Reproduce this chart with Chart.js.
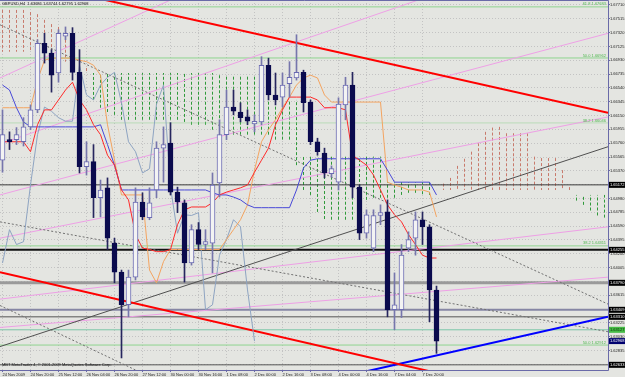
<!DOCTYPE html>
<html>
<head>
<meta charset="utf-8">
<title>GBPUSD,H4</title>
<script src="https://cdn.jsdelivr.net/npm/chart.js@4.4.1/dist/chart.umd.min.js"></script>
<style>
  html, body { margin: 0; padding: 0; background: #e4e5e1; }
  canvas { display: block; }
</style>
</head>
<body>
<canvas id="grafico" width="625" height="377"></canvas>
<script>
// GBPUSD H4 - velas, ichimoku, linhas de tendencia (estilo MT4)

const tituloSimbolo = 'GBPUSD,H4  1.63686 1.63744 1.62795 1.62968';
const rodape = 'MBT MetaTrader 4, \u00a9 2001-2009 MetaQuotes Software Corp.';

const rotulosTempo = ['24 Nov 2009', '24 Nov 20:00', '25 Nov 12:00', '26 Nov 04:00', '26 Nov 20:00',
  '27 Nov 12:00', '30 Nov 00:00', '30 Nov 16:00', '1 Dec 08:00', '2 Dec 00:00', '2 Dec 16:00',
  '3 Dec 08:00', '4 Dec 00:00', '4 Dec 16:00', '7 Dec 04:00', '7 Dec 20:00'];
const barrasRotulo = [0, 4, 8, 12, 16, 20, 24, 28, 32, 36, 40, 44, 48, 52, 56, 60];

const ticksPreco = [1.67710, 1.67515, 1.67320, 1.67125, 1.66930, 1.66735, 1.66540, 1.66345, 1.66150,
  1.65955, 1.65760, 1.65565, 1.65370, 1.65175, 1.64980, 1.64785, 1.64590, 1.64395, 1.64200,
  1.64005, 1.63810, 1.63615, 1.63420, 1.63225, 1.63030, 1.62835, 1.62640];

// velas H4
const abertura = [1.6552, 1.6581, 1.6581, 1.6578, 1.6599, 1.6623, 1.6717, 1.6703, 1.6675, 1.6727,
  1.6731, 1.6676, 1.6543, 1.6550, 1.6499, 1.6513, 1.6435, 1.6394, 1.6348, 1.6387,
  1.6493, 1.6471, 1.6510, 1.6569, 1.6576, 1.6507, 1.6492, 1.6407, 1.6454, 1.6433,
  1.6435, 1.6520, 1.6588, 1.6627, 1.6620, 1.6613, 1.6603, 1.6606, 1.6686, 1.6644,
  1.6641, 1.6660, 1.6668, 1.6676, 1.6634, 1.6578, 1.6562, 1.6533, 1.6521, 1.6630,
  1.6658, 1.6514, 1.6449, 1.6428, 1.6474, 1.6479, 1.6341, 1.6341, 1.6428, 1.6442,
  1.6468, 1.6458, 1.63686];
const maxima = [1.6623, 1.6592, 1.6598, 1.6612, 1.6630, 1.6722, 1.6731, 1.6708, 1.6736, 1.6740,
  1.6739, 1.6708, 1.6578, 1.6574, 1.6524, 1.6527, 1.6442, 1.6397, 1.6397, 1.6513,
  1.6506, 1.6513, 1.6578, 1.6599, 1.6605, 1.6514, 1.6496, 1.6461, 1.6464, 1.6454,
  1.6534, 1.6609, 1.6651, 1.6651, 1.6633, 1.6623, 1.6616, 1.6698, 1.6696, 1.6675,
  1.6675, 1.6691, 1.6729, 1.6679, 1.6637, 1.6583, 1.6569, 1.6544, 1.6640, 1.6669,
  1.6676, 1.6517, 1.6482, 1.6482, 1.6489, 1.6496, 1.6393, 1.6433, 1.6451, 1.6479,
  1.6479, 1.6461, 1.63744];
const minima = [1.6535, 1.6567, 1.6574, 1.6572, 1.6595, 1.6619, 1.6689, 1.6648, 1.6662, 1.6722,
  1.6665, 1.6534, 1.6531, 1.6471, 1.6472, 1.6426, 1.6379, 1.6273, 1.6331, 1.6383,
  1.6468, 1.6468, 1.6499, 1.6521, 1.6503, 1.6478, 1.6380, 1.6404, 1.6426, 1.6426,
  1.6393, 1.6500, 1.6581, 1.6616, 1.6606, 1.6602, 1.6592, 1.6602, 1.6637, 1.6630,
  1.6627, 1.6641, 1.6665, 1.6620, 1.6574, 1.6559, 1.6527, 1.6528, 1.6510, 1.6609,
  1.6499, 1.6440, 1.6442, 1.6423, 1.6461, 1.6331, 1.6313, 1.6330, 1.6423, 1.6418,
  1.6433, 1.6324, 1.62795];
const fechamento = [1.6588, 1.6578, 1.6588, 1.6599, 1.6623, 1.6717, 1.6703, 1.6672, 1.6731, 1.6731,
  1.6676, 1.6543, 1.6550, 1.6499, 1.6510, 1.6442, 1.6394, 1.6348, 1.6387, 1.6493,
  1.6472, 1.6492, 1.6569, 1.6574, 1.6507, 1.6493, 1.6407, 1.6454, 1.6433, 1.6437,
  1.6517, 1.6588, 1.6627, 1.6621, 1.6612, 1.6607, 1.6607, 1.6686, 1.6644, 1.6637,
  1.6658, 1.6669, 1.6676, 1.6633, 1.6578, 1.6564, 1.6534, 1.6540, 1.6631, 1.6658,
  1.6514, 1.6449, 1.6475, 1.6474, 1.6478, 1.6341, 1.6348, 1.6418, 1.6440, 1.6468,
  1.6458, 1.6369, 1.62968];

// ichimoku
const tenkan = [1.6578, 1.6578, 1.6578, 1.6578, 1.6564, 1.6602, 1.6623, 1.6623, 1.6637, 1.6651,
  1.6662, 1.6637, 1.6623, 1.6602, 1.6588, 1.6559, 1.6545, 1.6510, 1.6496, 1.6447,
  1.6428, 1.6426, 1.6423, 1.6423, 1.6426, 1.6461, 1.6482, 1.6486, 1.6486, 1.6486,
  1.6492, 1.6503, 1.6507, 1.6510, 1.6513, 1.6517, 1.6535, 1.6552, 1.6569, 1.6602,
  1.6623, 1.6641, 1.6641, 1.6641, 1.6641, 1.6637, 1.6626, 1.6626, 1.6626, 1.6623,
  1.6559, 1.6552, 1.6545, 1.6531, 1.6510, 1.6489, 1.6475, 1.6465, 1.6447, 1.6433,
  1.6418, 1.6414, 1.6414];
const kijun = [1.6658, 1.6651, 1.6626, 1.6606, 1.6599, 1.6599, 1.6599, 1.6599, 1.6599, 1.6599,
  1.6599, 1.6599, 1.6599, 1.6599, 1.6602, 1.6574, 1.6545, 1.6510, 1.6510, 1.6510,
  1.6510, 1.6510, 1.6510, 1.6510, 1.6510, 1.6510, 1.6510, 1.6510, 1.6510, 1.6510,
  1.6506, 1.6503, 1.6503, 1.6500, 1.6496, 1.6489, 1.6485, 1.6485, 1.6485, 1.6485,
  1.6485, 1.6485, 1.6510, 1.6541, 1.6552, 1.6554, 1.6554, 1.6554, 1.6554, 1.6554,
  1.6554, 1.6554, 1.6554, 1.6554, 1.6554, 1.6538, 1.6521, 1.6521, 1.6521, 1.6521,
  1.6521, 1.6521, 1.6503];
const linhaLaranja = [1.6626, 1.6626, 1.6626, 1.6626, 1.6626, 1.6665, 1.6693, 1.6696, 1.6696, 1.6696,
  1.6696, 1.6693, 1.6691, 1.6686, 1.6672, 1.6602, 1.6552, 1.6503, 1.6503, 1.6503,
  1.6503, 1.6397, 1.6379, 1.6409, 1.6426, 1.6426, 1.6426, 1.6426, 1.6426, 1.6426,
  1.6426, 1.6426, 1.6440, 1.6454, 1.6468, 1.6489, 1.6538, 1.6578, 1.6595, 1.6609,
  1.6626, 1.6641, 1.6658, 1.6668, 1.6672, 1.6668, 1.6644, 1.6634, 1.6634, 1.6634,
  1.6634, 1.6634, 1.6634, 1.6634, 1.6634, 1.6521, 1.6517, 1.6514, 1.6510, 1.6510,
  1.6510, 1.6507, 1.6472];
const chikou = [1.6407, 1.6454, 1.6433, 1.6437, 1.6517, 1.6588, 1.6627, 1.6621, 1.6612, 1.6607,
  1.6607, 1.6686, 1.6644, 1.6637, 1.6658, 1.6669, 1.6676, 1.6633, 1.6578, 1.6564,
  1.6534, 1.6540, 1.6631, 1.6658, 1.6514, 1.6449, 1.6475, 1.6474, 1.6478, 1.6341,
  1.6348, 1.6418, 1.6440, 1.6468, 1.6458, 1.6369, 1.62968];
const senkouA = [1.6764, 1.6764, 1.6764, 1.6764, 1.6761, 1.6758, 1.6750, 1.6744, 1.6740, 1.6729,
  1.6715, 1.6700, 1.6682, 1.6637, 1.6626, 1.6620, 1.6616, 1.6609, 1.6609, 1.6609,
  1.6609, 1.6609, 1.6609, 1.6609, 1.6609, 1.6609, 1.6606, 1.6602, 1.6602, 1.6602,
  1.6595, 1.6590, 1.6588, 1.6588, 1.6588, 1.6588, 1.6588, 1.6588, 1.6588, 1.6581,
  1.6581, 1.6581, 1.6545, 1.6510, 1.6503, 1.6479, 1.6469, 1.6468, 1.6468, 1.6468,
  1.6468, 1.6486, 1.6496, 1.6499, 1.6499, 1.6499, 1.6499, 1.6503, 1.6506, 1.6506,
  1.6504, 1.6503, 1.6510, 1.6519, 1.6527, 1.6544, 1.6554, 1.6564, 1.6576, 1.6592,
  1.6598, 1.6599, 1.6590, 1.6590, 1.6590, 1.6590, 1.6557, 1.6555, 1.6555, 1.6555,
  1.6538, 1.6514, 1.6495, 1.6489, 1.6481, 1.6474, 1.6471];
const senkouB = [1.6705, 1.6705, 1.6705, 1.6705, 1.6705, 1.6700, 1.6700, 1.6696, 1.6693, 1.6691,
  1.6686, 1.6682, 1.6676, 1.6675, 1.6675, 1.6675, 1.6675, 1.6675, 1.6675, 1.6675,
  1.6675, 1.6675, 1.6675, 1.6675, 1.6675, 1.6675, 1.6675, 1.6675, 1.6675, 1.6675,
  1.6675, 1.6672, 1.6672, 1.6672, 1.6672, 1.6672, 1.6672, 1.6665, 1.6651, 1.6637,
  1.6637, 1.6637, 1.6637, 1.6557, 1.6557, 1.6557, 1.6557, 1.6557, 1.6557, 1.6557,
  1.6557, 1.6557, 1.6557, 1.6557, 1.6557, 1.6521, 1.6521, 1.6521, 1.6521, 1.6521,
  1.6521, 1.6521, 1.6510, 1.6510, 1.6510, 1.6510, 1.6510, 1.6510, 1.6510, 1.6510,
  1.6510, 1.6510, 1.6510, 1.6510, 1.6510, 1.6510, 1.6510, 1.6510, 1.6510, 1.6510,
  1.6510, 1.6510, 1.6503, 1.6503, 1.6503, 1.6503, 1.6503];

// objetos desenhados: [barra, preco] de cada ponta
const tendVermelhaAlta = [[14.7, 1.6778], [86.5, 1.6619]];
const tendVermelhaBaixa = [[-0.36, 1.6394], [62, 1.6252]];
const tendAzul = [[51, 1.6252], [86.5, 1.6331]];
const tendCinza = [[-0.36, 1.6289], [86.5, 1.6571]];
const pontilhadas = [
  [[-0.36, 1.6743], [86.5, 1.6349]],
  [[-0.36, 1.6465], [86.5, 1.6310]],
  [[-0.36, 1.6347], [19.0, 1.6256]]
];
const canalRosa = [
  [[-0.36, 1.6668], [24.0, 1.6778]],
  [[-0.36, 1.6575], [59.4, 1.6778]],
  [[-0.36, 1.6503], [86.5, 1.6731]],
  [[-0.36, 1.6442], [86.5, 1.6613]],
  [[-0.36, 1.6356], [86.5, 1.6458]],
  [[-0.36, 1.6316], [86.5, 1.6387]]
];

const nivelFibo = ['61.8', '50.0', '38.2', '38.2', '50.0'];
const precoFibo = [1.67683, 1.66962, 1.66046, 1.64311, 1.62912];
const precoVerde = [1.63127];
const precoNiveis = [1.65172, 1.64255, 1.63790, 1.63409, 1.63310, 1.62633];
const precoBid = 1.62968;

const estiloNiveis = [
  { cor: '#3a3a3a', larg: 1 }, { cor: '#111111', larg: 2 }, { cor: '#9a9a9a', larg: 3 },
  { cor: '#8686a4', larg: 2 }, { cor: '#555555', larg: 1 }, { cor: '#555555', larg: 1 }
];

const FONTE = '"Liberation Sans", Arial, sans-serif';
const canvas = document.getElementById('grafico');

const pts = (arr) => arr.map((v, i) => ({ x: i, y: v }));
const seg = (par) => par.map(([b, p]) => ({ x: b, y: p }));
const horiz = (p) => [{ x: -1, y: p }, { x: 90, y: p }];
const alta = (i) => fechamento[i] >= abertura[i];

function linha(data, cor, larg, ordem, extra) {
  return Object.assign({
    type: 'line', data, borderColor: cor, borderWidth: larg, pointRadius: 0,
    tension: 0, fill: false, order: ordem
  }, extra || {});
}

const datasets = [];

// corpos e pavios
datasets.push({
  type: 'bar', order: 0, grouped: false, barThickness: 5, minBarLength: 1, borderSkipped: false,
  data: abertura.map((o, i) => ({ x: i, y: [o, fechamento[i]] })),
  backgroundColor: abertura.map((_, i) => alta(i) ? '#f3f3f3' : '#0b0b4e'),
  borderColor: abertura.map((_, i) => alta(i) ? '#6a6ab2' : '#0b0b4e'),
  borderWidth: 1
});
datasets.push({
  type: 'bar', order: 1, grouped: false, barThickness: 1,
  data: minima.map((l, i) => ({ x: i, y: [l, maxima[i]] })),
  backgroundColor: minima.map((_, i) => alta(i) ? '#7676ac' : '#26265e')
});

// linhas do ichimoku
datasets.push(linha(pts(tenkan), '#ff2a2a', 1, 3));
datasets.push(linha(pts(kijun), '#4848d8', 1, 3));
datasets.push(linha(pts(linhaLaranja), '#f4a460', 1, 3));
datasets.push(linha(pts(chikou), '#8ea4c2', 1, 3));

// nuvem: um traco tracejado vertical por barra, entre senkou A e B
senkouA.forEach((a, i) => {
  const b = senkouB[i];
  datasets.push(linha([{ x: i, y: a }, { x: i, y: b }], a < b ? '#2f9a3a' : '#c87a6c', 1, 12,
    { borderDash: [3, 2], borderCapStyle: 'butt' }));
});

// tendencias
datasets.push(linha(seg(tendVermelhaAlta), '#ff0000', 2, 5));
datasets.push(linha(seg(tendVermelhaBaixa), '#ff0000', 2, 5));
datasets.push(linha(seg(tendAzul), '#0000ff', 2, 5));
datasets.push(linha(seg(tendCinza), '#505050', 1, 6));
pontilhadas.forEach(p => datasets.push(linha(seg(p), '#707070', 1, 6, { borderDash: [2, 2] })));
canalRosa.forEach(p => datasets.push(linha(seg(p), '#eea0e6', 1, 7)));

// niveis horizontais
precoFibo.forEach((p, k) => datasets.push(linha(horiz(p), '#8fd48f', 1, 8,
  k === 2 ? { borderDash: [1, 1] } : {})));
precoVerde.forEach(p => datasets.push(linha(horiz(p), '#7cc6a8', 1, 8)));
precoNiveis.forEach((p, k) => datasets.push(linha(horiz(p), estiloNiveis[k].cor, estiloNiveis[k].larg, 8)));

const fundo = {
  id: 'fundo',
  beforeDraw(chart) {
    const c = chart.ctx;
    c.save();
    c.fillStyle = '#e4e5e1';
    c.fillRect(0, 0, chart.width, chart.height);
    c.restore();
  }
};

const textos = {
  id: 'textos',
  afterDraw(chart) {
    const c = chart.ctx;
    const a = chart.chartArea;
    const y = chart.scales.y;
    c.save();
    c.strokeStyle = '#6a6aa8';
    c.lineWidth = 1;
    c.beginPath();
    c.moveTo(a.left, a.top + 0.5);
    c.lineTo(a.right + 0.5, a.top + 0.5);
    c.lineTo(a.right + 0.5, a.bottom + 0.5);
    c.lineTo(a.left, a.bottom + 0.5);
    c.stroke();

    c.font = '4px ' + FONTE;
    c.textBaseline = 'top';
    c.fillStyle = '#101010';
    c.textAlign = 'left';
    c.fillText(tituloSimbolo, 2, 2);
    c.textBaseline = 'bottom';
    c.fillText(rodape, 2, a.bottom - 3);

    c.fillStyle = '#4fb84f';
    c.textAlign = 'right';
    precoFibo.forEach((p, k) => {
      c.fillText(nivelFibo[k] + ' ' + p.toFixed(5), a.right - 2, y.getPixelForValue(p) - 0.5);
    });

    const caixa = (p, corFundo, corTexto) => {
      const py = y.getPixelForValue(p);
      c.fillStyle = corFundo;
      c.fillRect(a.right + 1, py - 3, chart.width - a.right - 1, 6);
      c.fillStyle = corTexto;
      c.textAlign = 'left';
      c.textBaseline = 'middle';
      c.fillText(p.toFixed(5), a.right + 2, py);
    };
    precoNiveis.forEach(p => caixa(p, '#000000', '#ffffff'));
    precoVerde.forEach(p => caixa(p, '#44bb44', '#0a2a0a'));
    caixa(precoBid, '#00006e', '#ffffff');
    c.restore();
  }
};

new Chart(canvas, {
  type: 'bar',
  data: { datasets },
  options: {
    responsive: false,
    animation: false,
    events: [],
    layout: { padding: 0 },
    plugins: { legend: { display: false }, tooltip: { enabled: false } },
    scales: {
      x: {
        type: 'linear', min: -2.5 / 7, max: 86.5, offset: false,
        afterFit(s) { s.height = 7; s.paddingLeft = 0; s.paddingRight = 0; },
        afterBuildTicks(s) { s.ticks = barrasRotulo.map(v => ({ value: v })); },
        ticks: {
          autoSkip: false, maxRotation: 0, minRotation: 0, align: 'start', padding: 0,
          color: '#202020', font: { size: 4, family: FONTE },
          callback: (v, i) => rotulosTempo[i]
        },
        grid: { color: '#c3c3c3', tickLength: 2, offset: false, tickColor: '#6a6aa8' },
        border: { display: false, dash: [1, 2] }
      },
      y: {
        position: 'right', min: 1.6256, max: 1.6778,
        afterFit(s) { s.width = 17; s.paddingTop = 0; s.paddingBottom = 0; },
        afterBuildTicks(s) { s.ticks = ticksPreco.map(v => ({ value: v })); },
        ticks: {
          padding: 0, color: '#202020', font: { size: 4, family: FONTE },
          callback: (v) => v.toFixed(5)
        },
        grid: { color: '#c3c3c3', tickLength: 2, tickColor: '#6a6aa8' },
        border: { display: false, dash: [1, 2] }
      }
    }
  },
  plugins: [fundo, textos]
});
</script>
</body>
</html>
